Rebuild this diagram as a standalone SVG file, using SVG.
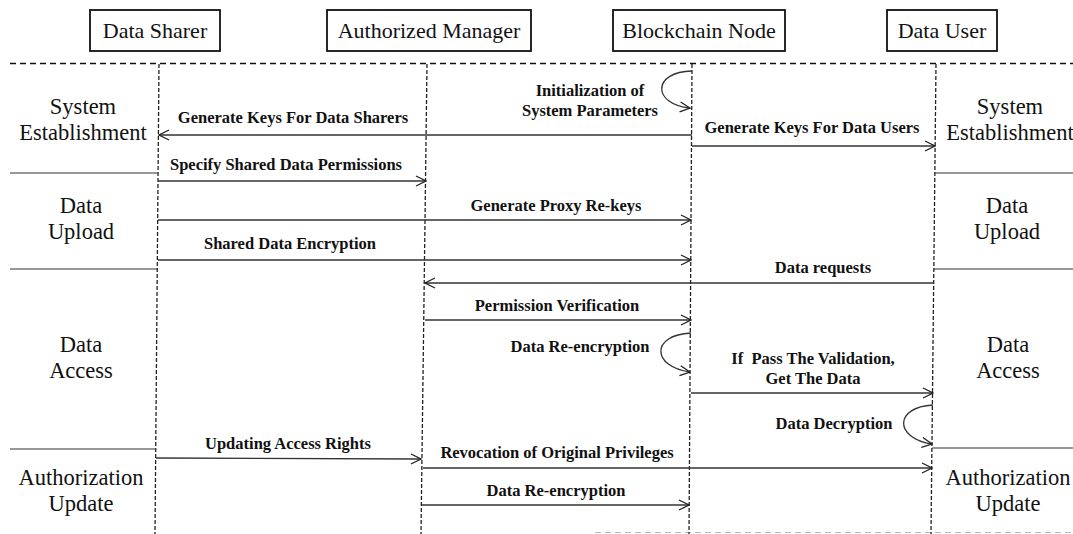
<svg xmlns="http://www.w3.org/2000/svg" width="1073" height="534" viewBox="0 0 1073 534">
<defs>
<marker id="arr" viewBox="0 0 12 12" refX="11" refY="6" markerWidth="12" markerHeight="12" markerUnits="userSpaceOnUse" orient="auto">
<path d="M1,1 L11,6 L1,11" fill="none" stroke="#222" stroke-width="1.3"/>
</marker>
<style>
.hdr{fill:#fff;stroke:#111;stroke-width:1.8}
.ht{font-family:"Liberation Serif",serif;font-size:22px;fill:#111;text-anchor:middle}
.sec{font-family:"Liberation Serif",serif;font-size:22.5px;fill:#111;text-anchor:middle}
.lbl{font-family:"Liberation Serif",serif;font-size:16.5px;font-weight:bold;fill:#111;text-anchor:middle}
.life{stroke:#222;stroke-width:1.3;stroke-dasharray:4,2;fill:none}
.sep{stroke:#333;stroke-width:1.2;fill:none}
.msg{stroke:#333;stroke-width:1.3;fill:none;marker-end:url(#arr)}
</style>
</defs>
<rect width="1073" height="534" fill="#fff"/>
<g id="frame">
<line x1="10" y1="63.5" x2="1073" y2="63.5" stroke="#111" stroke-width="1.6" stroke-dasharray="6,4"/>
<line x1="595" y1="532.5" x2="1073" y2="532.5" stroke="#bbb" stroke-width="1" stroke-dasharray="6,4"/>
</g>
<g id="data-sharer">
<rect class="hdr" x="90" y="10" width="130" height="41"/>
<text class="ht" x="155" y="38">Data Sharer</text>
<line class="life" x1="159" y1="64" x2="155" y2="534"/>
</g>
<g id="authorized-manager">
<rect class="hdr" x="327" y="10" width="204" height="41"/>
<text class="ht" x="429" y="38">Authorized Manager</text>
<line class="life" x1="427" y1="64" x2="421" y2="534"/>
</g>
<g id="blockchain-node">
<rect class="hdr" x="613" y="10" width="172" height="41"/>
<text class="ht" x="699" y="38">Blockchain Node</text>
<line class="life" x1="692" y1="64" x2="689" y2="534"/>
</g>
<g id="data-user">
<rect class="hdr" x="887" y="10" width="110" height="41"/>
<text class="ht" x="942" y="38">Data User</text>
<line class="life" x1="936" y1="64" x2="931" y2="534"/>
</g>
<g id="phases">
<line class="sep" x1="10" y1="173" x2="158" y2="173"/>
<line class="sep" x1="10" y1="269" x2="158" y2="269"/>
<line class="sep" x1="10" y1="449" x2="156" y2="449"/>
<line class="sep" x1="935" y1="173" x2="1073" y2="173"/>
<line class="sep" x1="934" y1="269" x2="1073" y2="269"/>
<line class="sep" x1="932" y1="448" x2="1073" y2="448"/>
<text class="sec" x="83" y="114">System</text>
<text class="sec" x="83" y="140">Establishment</text>
<text class="sec" x="1010" y="114">System</text>
<text class="sec" x="1010" y="140">Establishment</text>
<text class="sec" x="81" y="213">Data</text>
<text class="sec" x="81" y="239">Upload</text>
<text class="sec" x="1007" y="213">Data</text>
<text class="sec" x="1007" y="239">Upload</text>
<text class="sec" x="81" y="352">Data</text>
<text class="sec" x="81" y="378">Access</text>
<text class="sec" x="1008" y="352">Data</text>
<text class="sec" x="1008" y="378">Access</text>
<text class="sec" x="81" y="485">Authorization</text>
<text class="sec" x="81" y="511">Update</text>
<text class="sec" x="1008" y="485">Authorization</text>
<text class="sec" x="1008" y="511">Update</text>
</g>
<g id="connectors">
<path class="msg" d="M692,71 C652,72 652,104 690,108"/>
<line class="msg" x1="692" y1="135" x2="159" y2="135"/>
<line class="msg" x1="692" y1="146" x2="935" y2="146"/>
<line class="msg" x1="158" y1="181" x2="426" y2="181"/>
<line class="msg" x1="158" y1="220" x2="691" y2="220"/>
<line class="msg" x1="158" y1="260" x2="691" y2="260"/>
<line class="msg" x1="934" y1="283" x2="425" y2="283"/>
<line class="msg" x1="425" y1="320" x2="691" y2="320"/>
<path class="msg" d="M691,333 C650,335 652,367 690,372"/>
<line class="msg" x1="691" y1="393" x2="933" y2="393"/>
<path class="msg" d="M933,405 C894,407 894,438 932,444"/>
<line class="msg" x1="156" y1="458" x2="421" y2="459"/>
<line class="msg" x1="423" y1="468" x2="932" y2="468"/>
<line class="msg" x1="422" y1="505" x2="689" y2="505"/>
<text class="lbl" x="590" y="96">Initialization of</text>
<text class="lbl" x="590" y="116">System Parameters</text>
<text class="lbl" x="293" y="123">Generate Keys For Data Sharers</text>
<text class="lbl" x="812" y="133">Generate Keys For Data Users</text>
<text class="lbl" x="286" y="170">Specify Shared Data Permissions</text>
<text class="lbl" x="556" y="211">Generate Proxy Re-keys</text>
<text class="lbl" x="290" y="249">Shared Data Encryption</text>
<text class="lbl" x="823" y="273">Data requests</text>
<text class="lbl" x="557" y="311">Permission Verification</text>
<text class="lbl" x="580" y="352">Data Re-encryption</text>
<text class="lbl" x="813" y="364" xml:space="preserve">If  Pass The Validation,</text>
<text class="lbl" x="813" y="384">Get The Data</text>
<text class="lbl" x="834" y="429">Data Decryption</text>
<text class="lbl" x="288" y="449">Updating Access Rights</text>
<text class="lbl" x="557" y="458">Revocation of Original Privileges</text>
<text class="lbl" x="556" y="496">Data Re-encryption</text>
</g>
</svg>
